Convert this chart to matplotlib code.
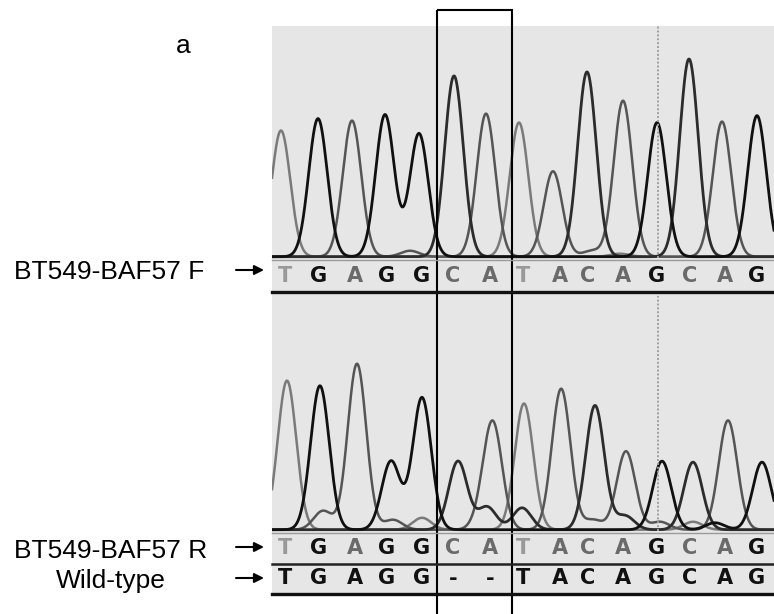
import numpy as np
import matplotlib
matplotlib.use("Agg")
import matplotlib.pyplot as plt
from matplotlib.patches import Rectangle

W, H = 774, 614

# base calls and their scan positions
read_seq = list("TGAGGCATACAGCAG")
wt_seq = list("TGAGG--TACAGCAG")
call_pos = [285, 319, 355, 387, 422, 453, 490, 523, 560, 588, 623, 657, 690, 725, 757]

# forward trace: main peaks (scan position, height, base)
fwd_pos = [281, 318, 352, 385, 419, 454, 486, 519, 553, 587, 623, 657, 689, 722, 757]
fwd_h = [127, 139, 137, 143, 124, 178, 144, 135, 86, 186, 157, 135, 199, 136, 142]
fwd_base = list("TGAGGCATACAGCAG")
# forward trace: small background peaks
fwd_minor_pos = [410, 455, 592, 620]
fwd_minor_h = [6, 4, 6, 3]
fwd_minor_base = list("ACAT")

# reverse trace: main peaks
rev_pos = [287, 320, 357, 391, 422, 458, 493, 524, 561, 595, 626, 662, 693, 728, 762]
rev_h = [150, 140, 167, 69, 133, 69, 103, 127, 122, 125, 79, 69, 68, 110, 68]
rev_base = list("TGAGGCATACAGCAG")
# reverse trace: secondary (shifted) peaks
rev_minor_pos = [323, 318, 393, 422, 483, 487, 522, 562, 593, 625, 660, 693, 715]
rev_minor_h = [19, 5, 10, 12, 12, 23, 22, 20, 10, 14, 8, 8, 7]
rev_minor_base = list("AGATACCAACATG")

colors = {"G": "#101010", "C": "#2c2c2c", "A": "#555555", "T": "#7a7a7a"}
letter_colors = {"G": "#111111", "C": "#6a6a6a", "A": "#6a6a6a", "T": "#999999", "-": "#111111"}
panel_gray = "#e6e6e6"
sigma = 9.3


def px_rect(x0, y0, x1, y1):
    return [x0 / W, 1 - y1 / H, (x1 - x0) / W, (y1 - y0) / H]


def draw_trace(ax, pos, h, base, mpos, mh, mbase, top):
    xs = np.linspace(272, 774, 2500)
    allpos = pos + mpos
    allh = h + mh
    allbase = base + mbase
    for b in ["T", "A", "C", "G"]:
        ys = np.zeros_like(xs) + 0.8
        for p, hh, bb in zip(allpos, allh, allbase):
            if bb == b:
                ys += hh * np.exp(-0.5 * ((xs - p) / sigma) ** 2)
        ax.plot(xs, ys, color=colors[b], lw=2.0 if b in "GC" else 1.8)
    ax.plot([658, 658], [0, top], color="#a0a0a0", lw=1.4, ls=(0, (1, 1)))
    ax.set_xlim(272, 774)
    ax.set_ylim(-1.5, top)
    ax.axis("off")


def draw_strip(ax, seq, cmap):
    ax.set_xlim(272, 774)
    ax.set_ylim(0, 1)
    for x, s in zip(call_pos, seq):
        c = cmap[s] if cmap else "#111111"
        ax.text(x, 0.5, s, ha="center", va="center", fontsize=15,
                fontweight="bold", color=c, family="DejaVu Sans")
    ax.axis("off")


fig = plt.figure(figsize=(W / 100, H / 100), dpi=100)
fig.patch.set_facecolor("white")

# overlay axes in pixel units for frame, labels and arrows
ov = fig.add_axes([0, 0, 1, 1], zorder=5)
ov.set_xlim(0, W)
ov.set_ylim(H, 0)
ov.axis("off")
ov.patch.set_alpha(0)

bg = fig.add_axes([0, 0, 1, 1], zorder=0)
bg.set_xlim(0, W)
bg.set_ylim(H, 0)
bg.axis("off")
bg.add_patch(Rectangle((272, 26), 502, 570, color=panel_gray, lw=0))

ax_top = fig.add_axes(px_rect(272, 26, 774, 259), zorder=1)
draw_trace(ax_top, fwd_pos, fwd_h, fwd_base, fwd_minor_pos, fwd_minor_h, fwd_minor_base, 233)

ax_bot = fig.add_axes(px_rect(272, 296, 774, 532), zorder=1)
draw_trace(ax_bot, rev_pos, rev_h, rev_base, rev_minor_pos, rev_minor_h, rev_minor_base, 236)

# dotted marker between the two panels
bg.plot([658, 658], [292, 296], color="#a0a0a0", lw=1.4, ls=(0, (1, 1)))

s_f = fig.add_axes(px_rect(272, 261, 774, 291), zorder=2)
draw_strip(s_f, read_seq, letter_colors)
s_r = fig.add_axes(px_rect(272, 533, 774, 563), zorder=2)
draw_strip(s_r, read_seq, letter_colors)
s_w = fig.add_axes(px_rect(272, 565, 774, 592), zorder=2)
draw_strip(s_w, wt_seq, None)

# strip rules
ov.plot([272, 774], [260, 260], color="#9a9a9a", lw=1)
ov.plot([272, 774], [292, 292], color="#111111", lw=2.4)
ov.plot([272, 774], [533, 533], color="#9a9a9a", lw=1)
ov.plot([272, 774], [564, 564], color="#222222", lw=1.8)
ov.plot([272, 774], [594, 594], color="#111111", lw=2.4)

# highlight box around the deleted bases
ov.add_patch(Rectangle((437, 10), 75, 640, fill=False, ec="black", lw=1.5, clip_on=False))

ov.text(183, 46, "a", fontsize=19, ha="center", va="center", family="Liberation Sans")
ov.text(14, 272, "BT549-BAF57 F", fontsize=19, ha="left", va="center", family="Liberation Sans")
ov.text(14, 551, "BT549-BAF57 R", fontsize=19, ha="left", va="center", family="Liberation Sans")
ov.text(111, 581, "Wild-type", fontsize=19, ha="center", va="center", family="Liberation Sans")

for yy in [270, 547, 578]:
    ov.annotate("", xy=(264, yy), xytext=(236, yy),
                arrowprops=dict(arrowstyle="-|>", color="black", lw=1.5, mutation_scale=14,
                                shrinkA=0, shrinkB=0))

fig.savefig("out.png", dpi=100)
